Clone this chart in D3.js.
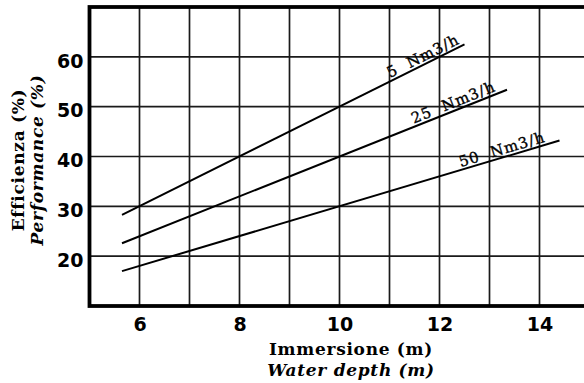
<!DOCTYPE html>
<html>
<head>
<meta charset="utf-8">
<script src="https://cdn.jsdelivr.net/npm/d3@7/dist/d3.min.js"></script>
<style>
  body { margin: 0; background: #fff; }
  svg { display: block; }
</style>
</head>
<body>
<div id="chart"></div>
<script>
// chart data
const xTicks = [6, 8, 10, 12, 14];
const yTicks = [20, 30, 40, 50, 60];
const seriesNames = ['5 Nm3/h', '25 Nm3/h', '50 Nm3/h'];
const seriesDepth = [[5.65, 12.5], [5.65, 13.35], [5.65, 14.4]];
const seriesEff = [[28.3, 62.5], [22.6, 53.4], [17.0, 43.2]];
const xTitle = ['Immersione (m)', 'Water depth (m)'];
const yTitle = ['Efficienza (%)', 'Performance (%)'];

const W = 584, H = 383;
const plotLeft = 89.5, plotTop = 7, plotW = 500, plotBottom = 306;

const svg = d3.select('#chart').append('svg')
  .attr('width', W)
  .attr('height', H);

const x = d3.scaleLinear().domain([5, 15]).range([plotLeft, plotLeft + plotW]);
const y = d3.scaleLinear().domain([10, 70]).range([plotBottom, plotTop]);

// grid: every metre, every 10 %
svg.append('g')
  .selectAll('line')
  .data(d3.range(6, 15))
  .join('line')
  .attr('x1', d => x(d)).attr('x2', d => x(d))
  .attr('y1', y(70)).attr('y2', y(10))
  .attr('stroke', '#1a1a1a')
  .attr('stroke-width', 1.7);

svg.append('g')
  .selectAll('line')
  .data(yTicks)
  .join('line')
  .attr('x1', x(5)).attr('x2', x(15))
  .attr('y1', d => y(d)).attr('y2', d => y(d))
  .attr('stroke', '#1a1a1a')
  .attr('stroke-width', 1.7);

// frame
svg.append('rect')
  .attr('x', x(5))
  .attr('y', y(70))
  .attr('width', x(15) - x(5))
  .attr('height', y(10) - y(70))
  .attr('fill', 'none')
  .attr('stroke', '#000')
  .attr('stroke-width', 3.8);

// tick labels
const tickFont = '"DejaVu Sans", sans-serif';

const xAxis = d3.axisBottom(x).tickValues(xTicks).tickSize(0).tickPadding(0);
svg.append('g')
  .attr('transform', `translate(0,${plotBottom})`)
  .call(xAxis)
  .call(g => g.select('.domain').remove())
  .selectAll('text')
  .attr('dy', null)
  .attr('y', 25)
  .attr('fill', '#000')
  .attr('font-family', tickFont)
  .attr('font-weight', 'bold')
  .attr('font-size', '19px');

const yAxis = d3.axisLeft(y).tickValues(yTicks).tickSize(0).tickPadding(0);
svg.append('g')
  .attr('transform', `translate(${plotLeft - 6},0)`)
  .call(yAxis)
  .call(g => g.select('.domain').remove())
  .selectAll('text')
  .attr('dy', '0.38em')
  .attr('y', 3)
  .attr('fill', '#000')
  .attr('font-family', tickFont)
  .attr('font-weight', 'bold')
  .attr('font-size', '19px');

// series lines
const line = d3.line()
  .x(d => x(d[0]))
  .y(d => y(d[1]));

const labelBack = [3, 10, 13]; // px from line end to label end

seriesNames.forEach((name, i) => {
  const pts = seriesDepth[i].map((d, k) => [d, seriesEff[i][k]]);

  svg.append('path')
    .datum(pts)
    .attr('fill', 'none')
    .attr('stroke', '#000')
    .attr('stroke-width', 2)
    .attr('d', line);

  const x0 = x(pts[0][0]), y0 = y(pts[0][1]);
  const x1 = x(pts[1][0]), y1 = y(pts[1][1]);
  const ang = Math.atan2(y1 - y0, x1 - x0);

  svg.append('text')
    .attr('transform', `translate(${x1},${y1}) rotate(${ang * 180 / Math.PI})`)
    .attr('x', -labelBack[i])
    .attr('y', -3)
    .attr('text-anchor', 'end')
    .attr('font-family', '"DejaVu Serif", serif')
    .attr('font-size', '15px')
    .attr('letter-spacing', '1px')
    .attr('stroke', '#000')
    .attr('stroke-width', 0.35)
    .style('white-space', 'pre')
    .text(name.replace(' ', '  '));
});

// axis titles
const titleFont = '"DejaVu Serif", serif';
const xMid = 351;

xTitle.forEach((t, i) => {
  svg.append('text')
    .attr('x', xMid)
    .attr('y', 355 + i * 21)
    .attr('text-anchor', 'middle')
    .attr('font-family', titleFont)
    .attr('font-weight', 'bold')
    .attr('font-style', i ? 'italic' : 'normal')
    .attr('font-size', '17px')
    .attr('letter-spacing', '0.7px')
    .text(t);
});

yTitle.forEach((t, i) => {
  svg.append('text')
    .attr('transform', `translate(${24 + i * 19},160) rotate(-90)`)
    .attr('text-anchor', 'middle')
    .attr('font-family', titleFont)
    .attr('font-weight', 'bold')
    .attr('font-style', i ? 'italic' : 'normal')
    .attr('font-size', '17px')
    .attr('letter-spacing', '0.7px')
    .text(t);
});
</script>
</body>
</html>
